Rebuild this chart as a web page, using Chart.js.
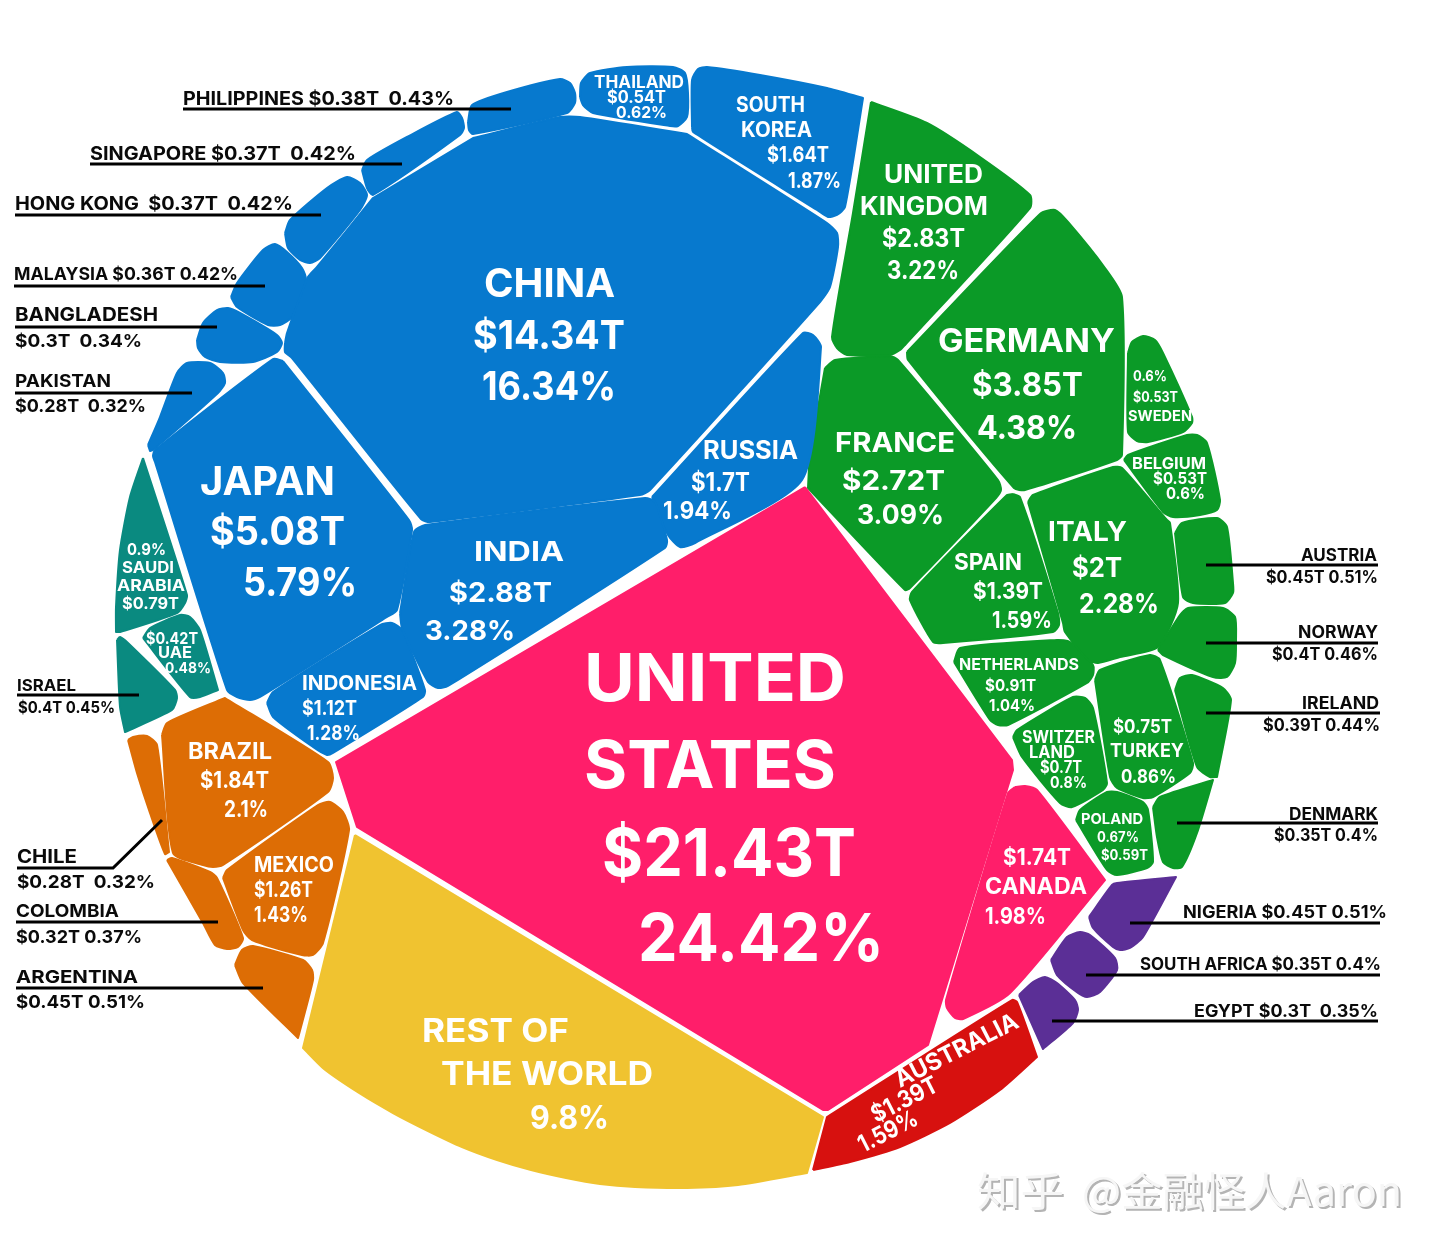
<!DOCTYPE html>
<html>
<head>
<meta charset="utf-8">
<title>World GDP</title>
<script src="https://cdn.jsdelivr.net/npm/chart.js@4/dist/chart.umd.min.js"></script>
<style>
html,body{margin:0;padding:0;background:#fff;}
#wrap{position:relative;width:1440px;height:1252px;}
</style>
</head>
<body>
<div id="wrap"><canvas id="gdpChart"></canvas></div>
<script>
/* DATA */

const countries = ["United States","China","Japan","India","Indonesia","Russia","South Korea","Thailand","Philippines","Singapore","Hong Kong","Malaysia","Bangladesh","Pakistan",
"United Kingdom","Germany","France","Italy","Spain","Sweden","Belgium","Austria","Norway","Ireland","Denmark","Turkey","Netherlands","Switzerland","Poland",
"Canada","Rest of the World","Australia","Egypt","South Africa","Nigeria","Brazil","Mexico","Chile","Colombia","Argentina","Saudi Arabia","UAE","Israel"];

const gdpTrillions = [21.43,14.34,5.08,2.88,1.12,1.7,1.64,0.54,0.38,0.37,0.37,0.36,0.3,0.28,
2.83,3.85,2.72,2,1.39,0.53,0.53,0.45,0.4,0.39,0.35,0.75,0.91,0.7,0.59,
1.74,null,1.39,0.3,0.35,0.45,1.84,1.26,0.28,0.32,0.45,0.79,0.42,0.4];

const gdpShares = [24.42,16.34,5.79,3.28,1.28,1.94,1.87,0.62,0.43,0.42,0.42,0.42,0.34,0.32,
3.22,4.38,3.09,2.28,1.59,0.6,0.6,0.51,0.46,0.44,0.4,0.86,1.04,0.8,0.67,
1.98,9.8,1.59,0.35,0.4,0.51,2.1,1.43,0.32,0.37,0.51,0.9,0.48,0.45];

const regions = ["na","asia","asia","asia","asia","asia","asia","asia","asia","asia","asia","asia","asia","asia",
"europe","europe","europe","europe","europe","europe","europe","europe","europe","europe","europe","europe","europe","europe","europe",
"na","rest","oceania","africa","africa","africa","latam","latam","latam","latam","latam","mideast","mideast","mideast"];

const regionColors = {na:"#ff1e6a",asia:"#0779ce",europe:"#0b9a27",rest:"#f0c330",oceania:"#d7110f",africa:"#5b2f96",latam:"#dd6d05",mideast:"#0a8a80"};

/* CELL OUTLINES, SAME ORDER AS countries
   a point written twice stays a sharp corner, the rest get rounded by the line tension */

const cellOutlines = [
[[805,487],[1012,760],[1013,770],[928,1045],[828,1110],[823,1110],[357,827],[336,762]],
[[285,343],[287,333],[308,277],[317,267],[373,198],[373,198],[473,138],[473,138],[560,117],[580,117],[687,134],[687,134],[827,223],[837,233],[838,247],[830,287],[820,302],[650,490],[640,495],[430,522],[421,519],[292,358],[285,352]],
[[283,361],[273,359],[155,450],[153,456],[155,462],[227,690],[237,697],[250,700],[260,697],[387,617],[397,610],[412,530],[409,520]],
[[400,613],[414,532],[425,525],[645,498],[655,502],[667,540],[665,548],[448,686],[438,688],[428,682],[402,628]],
[[267,703],[273,692],[380,625],[392,623],[402,630],[425,690],[423,697],[333,753],[327,755],[313,747],[273,717]],
[[652,497],[803,333],[813,335],[821,347],[802,480],[695,543],[680,547],[668,535],[655,505]],
[[692,127],[692,80],[698,69],[707,67],[760,75],[827,88],[863,98],[863,98],[845,207],[837,215],[828,217],[817,210],[693,132]],
[[580,97],[581,83],[590,73],[627,67],[673,67],[685,73],[688,93],[687,117],[678,126],[670,126],[593,113],[583,105]],
[[468,122],[472,105],[507,92],[560,79],[570,83],[575,93],[575,103],[567,113],[473,134],[469,130]],
[[362,170],[367,160],[407,137],[457,112],[462,118],[464,128],[460,135],[373,195],[367,188]],
[[285,233],[290,220],[327,188],[347,177],[360,183],[367,195],[360,210],[320,258],[310,263],[300,260],[288,248]],
[[231,297],[237,283],[263,250],[275,244],[287,252],[302,268],[306,280],[292,317],[280,325],[268,325],[237,307]],
[[197,340],[203,323],[217,310],[228,308],[240,313],[277,335],[282,343],[277,352],[253,362],[220,362],[205,357],[198,348]],
[[148,445],[160,417],[177,373],[187,363],[210,363],[223,373],[225,383],[218,393],[153,450],[150,451],[150,451]],
[[871,102],[871,102],[927,123],[980,157],[1030,195],[1030,208],[905,345],[900,350],[890,355],[847,355],[837,348],[832,337],[853,213]],
[[907,352],[1040,214],[1055,210],[1068,222],[1105,268],[1122,297],[1122,455],[1117,460],[1025,490],[1014,488],[908,360]],
[[825,368],[835,360],[890,356],[898,360],[998,480],[1001,490],[996,498],[910,588],[905,590],[808,488],[808,488],[810,455]],
[[1028,502],[1033,495],[1113,467],[1122,468],[1167,520],[1170,523],[1178,603],[1158,647],[1120,657],[1098,663],[1088,660],[1065,632],[1063,623]],
[[1013,494],[1020,497],[1058,613],[1059,625],[1053,632],[943,643],[933,642],[910,600],[912,592],[1007,495]],
[[1128,353],[1132,342],[1143,336],[1155,340],[1163,353],[1192,417],[1192,423],[1183,432],[1148,442],[1137,441],[1128,432]],
[[1124,460],[1128,455],[1187,435],[1197,435],[1207,443],[1220,500],[1217,510],[1200,515],[1173,517],[1163,512]],
[[1175,533],[1182,523],[1217,518],[1227,527],[1233,583],[1233,593],[1225,603],[1193,603],[1183,597]],
[[1158,650],[1180,615],[1188,608],[1223,608],[1235,617],[1236,640],[1235,663],[1227,677],[1213,677],[1163,655]],
[[1175,690],[1180,678],[1192,675],[1223,688],[1231,700],[1217,777],[1217,777],[1210,777],[1197,767]],
[[1153,807],[1160,797],[1213,780],[1213,780],[1197,833],[1182,867],[1173,868],[1163,862],[1157,837]],
[[1095,680],[1100,670],[1150,655],[1160,660],[1193,763],[1190,773],[1153,797],[1143,798],[1117,788],[1110,777]],
[[954,662],[960,648],[1057,640],[1070,642],[1093,665],[1093,675],[1087,683],[1008,725],[998,725],[990,720]],
[[1013,737],[1017,730],[1073,697],[1085,698],[1093,708],[1107,783],[1103,790],[1072,807],[1060,803],[1022,757]],
[[1076,820],[1080,810],[1107,792],[1117,792],[1143,802],[1148,810],[1153,862],[1147,868],[1117,875],[1107,870]],
[[1015,787],[1025,786],[1037,790],[1105,880],[1105,880],[1010,993],[963,1019],[955,1018],[947,1008],[946,1000],[1008,793]],
[[355,835],[355,835],[823,1117],[823,1117],[807,1173],[807,1173],[738,1185],[687,1188],[635,1187],[600,1184],[566,1178],[531,1170],[497,1160],[462,1147],[428,1131],[393,1113],[359,1093],[324,1069],[303,1048],[303,1048]],
[[813,1170],[813,1170],[827,1117],[827,1117],[1012,1000],[1017,1002],[1037,1057],[1037,1057],[1000,1090],[950,1123],[900,1147],[850,1162]],
[[1019,995],[1019,995],[1033,982],[1045,977],[1057,983],[1075,1000],[1078,1010],[1073,1023],[1043,1049],[1043,1049]],
[[1051,960],[1067,937],[1080,932],[1090,935],[1115,958],[1117,970],[1100,992],[1087,997],[1078,993],[1057,975]],
[[1089,917],[1112,885],[1117,883],[1176,877],[1176,877],[1143,937],[1130,948],[1120,950],[1113,947],[1093,928]],
[[162,735],[167,723],[225,698],[225,698],[328,762],[333,778],[328,792],[223,865],[213,867],[203,865],[173,853]],
[[223,878],[227,870],[318,805],[330,802],[343,812],[349,830],[323,943],[313,955],[302,955],[252,940],[243,930]],
[[128,740],[128,740],[133,737],[147,736],[157,745],[169,852],[169,852],[165,854],[150,813],[137,773]],
[[167,860],[167,860],[172,858],[210,872],[217,878],[243,938],[238,947],[227,949],[215,945],[203,923]],
[[235,965],[242,950],[253,946],[303,960],[312,970],[313,980],[298,1038],[298,1038],[243,983]],
[[143,458],[143,458],[187,595],[185,603],[177,613],[120,632],[116,632],[116,632],[116,607],[120,550],[130,497]],
[[143,638],[150,628],[180,615],[190,617],[200,630],[218,690],[218,690],[200,697],[190,697]],
[[117,640],[117,640],[120,637],[128,643],[175,690],[177,698],[172,710],[125,732],[125,732],[120,707]]
];

/* LEADER LINES */

const leaderLines = [
[[183,109],[511,109]],[[90,164],[402,164]],[[15,215],[321,215]],[[14,286],[265,286]],[[15,327],[217,327]],[[15,393],[192,393]],
[[17,695],[139,695]],[[17,868],[113,868],[162,820]],[[16,922],[218,922]],[[16,988],[263,988]],
[[1206,565],[1378,565]],[[1206,643],[1378,643]],[[1206,713],[1380,713]],[[1177,823],[1378,823]],
[[1130,923],[1380,923]],[[1086,975],[1380,975]],[[1052,1021],[1378,1021]]
];

/* TEXT: text, left, right, baseline, size */

const whiteLabels = [
["UNITED",584,846,701,66],["STATES",584,836,788,66],["$21.43T",602,856,876,66],["24.42%",638,884,961,66],
["CHINA",484,615,297,40],["$14.34T",473,625,349,40],["16.34%",482,616,400,40],
["JAPAN",200,335,495,40],["$5.08T",210,345,545,40],["5.79%",243,357,596,40],
["GERMANY",938,1115,352,33],["$3.85T",972,1083,396,33],["4.38%",977,1077,439,33],
["FRANCE",835,955,452,27],["$2.72T",842,945,490,27],["3.09%",857,944,524,27],
["UNITED",884,983,183,25],["KINGDOM",860,988,215,25],["$2.83T",882,965,247,25],["3.22%",887,959,279,25],
["ITALY",1048,1127,541,27],["$2T",1072,1122,577,27],["2.28%",1079,1159,613,27],
["SPAIN",954,1022,570,23],["$1.39T",973,1043,599,23],["1.59%",992,1052,628,23],
["0.6%",1133,1167,381,15],["$0.53T",1133,1178,402,15],["SWEDEN",1128,1192,421,15],
["BELGIUM",1132,1206,469,16],["$0.53T",1153,1207,484,16],["0.6%",1166,1205,499,16],
["NETHERLANDS",959,1079,670,16],["$0.91T",985,1036,691,16],["1.04%",989,1035,711,16],
["SWITZER",1022,1095,743,17],["LAND",1029,1075,758,17],["$0.7T",1040,1082,773,17],["0.8%",1050,1087,788,16],
["$0.75T",1113,1172,733,19],["TURKEY",1110,1184,757,19],["0.86%",1121,1176,783,19],
["POLAND",1081,1143,824,15],["0.67%",1097,1139,842,14],["$0.59T",1101,1148,860,14],
["$1.74T",1003,1071,865,23],["CANADA",985,1087,894,23],["1.98%",985,1046,924,23],
["RUSSIA",703,798,459,25],["$1.7T",691,750,491,25],["1.94%",663,732,519,24],
["INDIA",474,564,561,27],["$2.88T",449,552,602,27],["3.28%",425,515,640,27],
["INDONESIA",302,417,690,20],["$1.12T",302,357,715,20],["1.28%",307,360,740,20],
["SOUTH",736,805,112,21],["KOREA",741,812,137,21],["$1.64T",767,829,162,21],["1.87%",788,841,188,21],
["THAILAND",594,684,88,17],["$0.54T",607,666,103,17],["0.62%",616,667,118,16],
["0.9%",127,166,555,16],["SAUDI",122,174,573,16],["ARABIA",117,185,591,16],["$0.79T",122,179,609,16],
["$0.42T",146,198,644,16],["UAE",158,192,658,16],["0.48%",165,211,673,15],
["BRAZIL",188,272,759,23],["$1.84T",200,269,788,23],["2.1%",224,268,817,23],
["MEXICO",254,334,872,21],["$1.26T",254,313,897,21],["1.43%",254,308,922,21],
["REST OF",422,569,1042,32],["THE WORLD",441,653,1085,32],["9.8%",530,609,1129,32]
];

const rotatedLabels = [
["AUSTRALIA",900,1088,135,24],["$1.39T",876,1123,72,24],["1.59%",863,1153,64,24]
];

const blackLabels = [
["PHILIPPINES $0.38T  0.43%",183,454,105,19],["SINGAPORE $0.37T  0.42%",90,356,160,19],["HONG KONG  $0.37T  0.42%",15,293,210,19],
["MALAYSIA $0.36T 0.42%",14,238,280,18],["BANGLADESH",15,158,321,19],["$0.3T  0.34%",15,142,347,18],
["PAKISTAN",15,111,387,18],["$0.28T  0.32%",15,146,412,18],["ISRAEL",17,76,691,16],["$0.4T 0.45%",18,115,713,16],
["CHILE",17,77,863,19],["$0.28T  0.32%",17,155,888,18],["COLOMBIA",16,119,917,18],["$0.32T 0.37%",16,142,943,18],
["ARGENTINA",16,138,983,18],["$0.45T 0.51%",16,145,1008,18],
["AUSTRIA",1301,1377,561,17],["$0.45T 0.51%",1266,1378,583,17],["NORWAY",1298,1378,638,17],["$0.4T 0.46%",1272,1378,660,17],
["IRELAND",1302,1379,709,17],["$0.39T 0.44%",1263,1380,731,17],["DENMARK",1289,1378,820,17],["$0.35T 0.4%",1274,1378,841,17],
["NIGERIA $0.45T 0.51%",1183,1387,918,17],["SOUTH AFRICA $0.35T 0.4%",1140,1381,970,17],["EGYPT $0.3T  0.35%",1194,1378,1017,17]
];

const watermarks = [["知乎",978,1065,1207,40],["@金融怪人Aaron",1083,1403,1207,40]];

/* DATASETS */

const cellSets = countries.map((name,i) => {
const outline = cellOutlines[i].concat([cellOutlines[i][0]]);
return {
label: name + " " + gdpShares[i] + "%" + (gdpTrillions[i] ? " $" + gdpTrillions[i] + "T" : ""),
data: outline.map(p => ({x:p[0],y:p[1]})),
showLine: true,
fill: "shape",
backgroundColor: regionColors[regions[i]],
borderColor: regionColors[regions[i]],
borderWidth: 2,
borderJoinStyle: "round",
pointRadius: 0,
tension: i === 0 ? 0 : 0.22
};
});

// lower order is painted last, so the leaders sit on top of the cells
const leaderSets = leaderLines.map(line => ({
label: "leader",
data: line.map(p => ({x:p[0],y:p[1]})),
showLine: true,
fill: false,
borderColor: "#000",
borderWidth: 3,
pointRadius: 0,
order: -1
}));

/* TEXT PLUGIN */

const fontFamily = "Inter, 'Noto Sans', sans-serif";

function putText(ctx,item,color,family,weight,dx,dy){
ctx.save();
ctx.font = weight + " " + item[4] + "px " + family;
ctx.fillStyle = color;
ctx.textBaseline = "alphabetic";
const natural = ctx.measureText(item[0]).width;
ctx.translate(item[1] + (dx || 0),item[3] + (dy || 0));
ctx.scale((item[2]-item[1])/natural,1);
ctx.fillText(item[0],0,0);
ctx.restore();
}

const textPlugin = {
id: "textPlugin",
afterDatasetsDraw(chart){
const ctx = chart.ctx;
whiteLabels.forEach(l => putText(ctx,l,"#fff",fontFamily,"700"));
blackLabels.forEach(l => putText(ctx,l,"#0a0a0a",fontFamily,"700"));

rotatedLabels.forEach(l => {
ctx.save();
ctx.font = "700 " + l[4] + "px " + fontFamily;
ctx.fillStyle = "#fff";
const natural = ctx.measureText(l[0]).width;
ctx.translate(l[1],l[2]);
ctx.rotate(-27 * Math.PI / 180);
ctx.scale(l[3]/natural,1);
ctx.fillText(l[0],0,0);
ctx.restore();
});

/* embossed watermark: grey, then white nudged up-left */
watermarks.forEach(w => {
putText(ctx,w,"#b4b4b4","'Noto Sans CJK SC', sans-serif","400",1,1);
putText(ctx,w,"#f6f6f6","'Noto Sans CJK SC', sans-serif","400",-1,-1);
});
}
};

/* CHART */

new Chart(document.getElementById("gdpChart"),{
type: "scatter",
data: { datasets: cellSets.concat(leaderSets) },
options: {
responsive: true,
maintainAspectRatio: false,
animation: false,
layout: { padding: 0 },
plugins: { legend: {display:false}, tooltip: {enabled:false}, title: {display:false} },
scales: {
x: { type:"linear", min:0, max:1440, display:false },
y: { type:"linear", min:0, max:1252, reverse:true, display:false }
}
},
plugins: [textPlugin]
});
</script>
</body>
</html>
